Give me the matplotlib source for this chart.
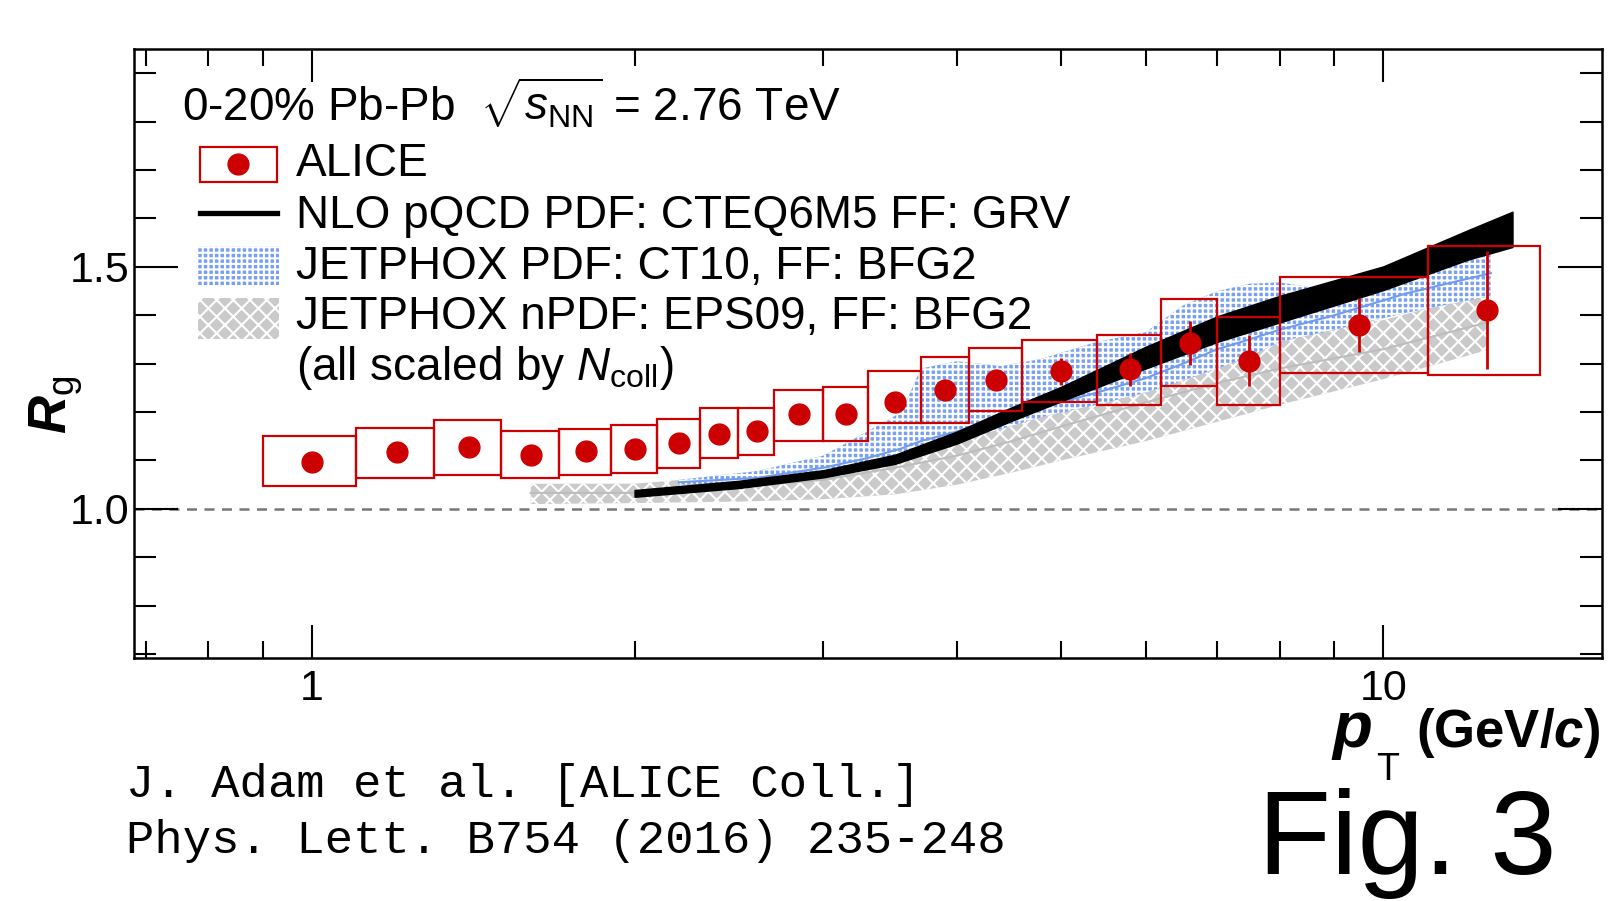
import numpy as np
import matplotlib
matplotlib.use("Agg")
import matplotlib.pyplot as plt
from matplotlib.patches import Rectangle
from matplotlib.lines import Line2D
from matplotlib.ticker import FixedLocator, NullFormatter, FormatStrFormatter, MultipleLocator, LogLocator

plt.rcParams['font.family'] = ['Liberation Sans', 'DejaVu Sans']
plt.rcParams['mathtext.fontset'] = 'custom'
plt.rcParams['mathtext.rm'] = 'Liberation Sans'
plt.rcParams['mathtext.it'] = 'Liberation Sans:italic'
plt.rcParams['mathtext.bf'] = 'Liberation Sans:bold'
plt.rcParams['mathtext.bfit'] = 'Liberation Sans:italic:bold'
plt.rcParams['hatch.linewidth'] = 1.5

# ALICE direkte Photonen, 0-20%
pt = [1.0, 1.2, 1.4, 1.6, 1.8, 2.0, 2.2, 2.4, 2.6, 2.85, 3.15, 3.5, 3.9, 4.35, 5.0, 5.8, 6.6, 7.5, 9.5, 12.5]
pt_lo = [0.9, 1.1, 1.3, 1.5, 1.7, 1.9, 2.1, 2.3, 2.5, 2.7, 3.0, 3.3, 3.7, 4.1, 4.6, 5.4, 6.2, 7.0, 8.0, 11.0]
pt_hi = [1.1, 1.3, 1.5, 1.7, 1.9, 2.1, 2.3, 2.5, 2.7, 3.0, 3.3, 3.7, 4.1, 4.6, 5.4, 6.2, 7.0, 8.0, 11.0, 14.0]
rg = [1.097, 1.117, 1.127, 1.112, 1.119, 1.123, 1.136, 1.155, 1.161, 1.195,
      1.197, 1.220, 1.246, 1.267, 1.284, 1.288, 1.343, 1.306, 1.380, 1.410]
rg_stat = [0.004, 0.004, 0.004, 0.004, 0.004, 0.005, 0.005, 0.006, 0.007, 0.008,
           0.009, 0.011, 0.014, 0.02, 0.028, 0.035, 0.046, 0.053, 0.055, 0.122]
sys_lo = [1.047, 1.064, 1.070, 1.064, 1.070, 1.074, 1.085, 1.106, 1.112, 1.140,
          1.140, 1.178, 1.178, 1.203, 1.220, 1.214, 1.254, 1.215, 1.280, 1.277]
sys_hi = [1.150, 1.167, 1.184, 1.161, 1.165, 1.174, 1.186, 1.208, 1.208, 1.246,
          1.252, 1.284, 1.314, 1.333, 1.348, 1.359, 1.434, 1.397, 1.480, 1.543]

# NLO pQCD (CTEQ6M5, GRV) - schwarzes Band
nlo_x = [2.0, 2.5, 3.0, 3.5, 4.0, 4.5, 5.0, 6.0, 7.0, 8.0, 10.0, 12.0, 13.2]
nlo_lo = [1.025, 1.043, 1.065, 1.093, 1.135, 1.182, 1.222, 1.290, 1.345, 1.385, 1.452, 1.515, 1.541]
nlo_hi = [1.039, 1.058, 1.080, 1.112, 1.160, 1.210, 1.252, 1.335, 1.398, 1.440, 1.501, 1.576, 1.614]

# JETPHOX CT10 - blaues Band
ct10_x = [2.2, 2.6, 3.0, 3.3, 3.55, 3.7, 4.0, 4.4, 4.8, 5.4, 6.0, 6.5, 7.0, 7.5, 8.0, 9.0, 10.5, 12.6]
ct10_lo = [1.050, 1.055, 1.070, 1.085, 1.100, 1.115, 1.140, 1.165, 1.190, 1.215, 1.240, 1.265,
           1.290, 1.315, 1.345, 1.370, 1.405, 1.440]
ct10_hi = [1.060, 1.078, 1.110, 1.160, 1.200, 1.290, 1.305, 1.295, 1.310, 1.345, 1.365, 1.420,
           1.450, 1.465, 1.468, 1.450, 1.490, 1.525]
ct10_mid = [1.055, 1.064, 1.085, 1.105, 1.125, 1.140, 1.160, 1.190, 1.210, 1.240, 1.270, 1.300,
            1.330, 1.350, 1.370, 1.400, 1.445, 1.487]

# JETPHOX EPS09 - graues Band
eps_x = [1.6, 2.0, 2.5, 3.0, 3.5, 4.0, 4.5, 5.0, 6.0, 7.0, 8.0, 10.0, 12.5]
eps_lo = [1.010, 1.012, 1.015, 1.020, 1.030, 1.050, 1.075, 1.100, 1.140, 1.180, 1.215, 1.268, 1.328]
eps_hi = [1.052, 1.052, 1.070, 1.100, 1.190, 1.220, 1.250, 1.280, 1.360, 1.330, 1.360, 1.390, 1.446]
eps_mid = [1.033, 1.033, 1.045, 1.060, 1.085, 1.110, 1.140, 1.170, 1.220, 1.260, 1.290, 1.330, 1.385]

red = '#cc0000'
blue_face = '#77a0f4'
gray_face = '#cacaca'

W, H = 1609, 901
def fx(px):
    return px / W
def fy(py):
    return 1 - py / H

fig = plt.figure(figsize=(W / 100, H / 100), dpi=100)
ax = fig.add_axes([fx(134), fy(658), fx(1602) - fx(134), fy(49) - fy(658)])

ax.set_xscale('log')
ax.set_xlim(0.682, 16.0)
ax.set_ylim(0.692, 1.95)

# Bänder
ax.fill_between(eps_x, eps_lo, eps_hi, facecolor=gray_face, edgecolor='white', hatch='xx', linewidth=0, zorder=1)
ax.plot(eps_x, eps_mid, color='#bdbdbd', lw=1.5, zorder=1.1)
ax.fill_between(ct10_x, ct10_lo, ct10_hi, facecolor=blue_face, edgecolor='white', hatch='+++', linewidth=0, zorder=2)
ax.plot(ct10_x, ct10_mid, color='#6f9cf2', lw=1.5, zorder=2.1)
ax.fill_between(nlo_x, nlo_lo, nlo_hi, facecolor='black', edgecolor='black', linewidth=1, zorder=3)

ax.axhline(1.0, color='#777777', lw=1.8, ls=(0, (4, 3)), zorder=0.5)

# Systematik-Kästen
widths = np.array(pt_hi) - np.array(pt_lo)
heights = np.array(sys_hi) - np.array(sys_lo)
ax.bar(pt_lo, heights, width=widths, bottom=sys_lo, align='edge', fill=False,
       edgecolor=red, linewidth=1.6, zorder=4)

ax.errorbar(pt, rg, yerr=rg_stat, fmt='o', color=red, ms=15, elinewidth=2, capsize=0, zorder=5)

# Achsen
ax.xaxis.set_major_locator(FixedLocator([1, 10]))
ax.set_xticklabels(['1', '10'])
ax.xaxis.set_minor_locator(LogLocator(base=10, subs=np.arange(2, 10) * 0.1 * 10 / 10, numticks=20))
ax.xaxis.set_minor_formatter(NullFormatter())
ax.yaxis.set_major_locator(FixedLocator([1.0, 1.5]))
ax.yaxis.set_major_formatter(FormatStrFormatter('%.1f'))
ax.yaxis.set_minor_locator(MultipleLocator(0.1))

ax.tick_params(which='both', direction='in', top=True, right=True, width=1.5, labelsize=31)
ax.tick_params(axis='x', which='major', length=24, pad=8)
ax.tick_params(axis='x', which='minor', length=12)
ax.tick_params(axis='y', which='major', length=32, pad=3)
ax.tick_params(axis='y', which='minor', length=16)
for s in ax.spines.values():
    s.set_linewidth(1.8)

# Achsentitel (ROOT-Stil: grosses p, tiefes T)
fig.text(fx(1331), fy(747), r'$\mathbfit{p}$', fontsize=47, ha='left', va='baseline')
fig.text(fx(1376), fy(780), 'T', fontsize=27, ha='left', va='baseline')
fig.text(fx(1600), fy(747), r'(GeV/$\mathbfit{c}$)', fontsize=38, fontweight='bold', ha='right', va='baseline')
fig.text(fx(56), fy(405), r'$\mathbfit{R}_{\mathrm{g}}$', fontsize=38, rotation=90,
         ha='center', va='center')

# Legende
fs = 33
fig.text(fx(182), fy(121), r'0-20% Pb-Pb  $\sqrt{s_{\mathrm{NN}}}$ = 2.76 TeV', fontsize=fs, va='baseline')
fig.add_artist(Rectangle((fx(200), fy(182)), fx(277) - fx(200), fy(147) - fy(182), transform=fig.transFigure,
                         fill=False, edgecolor=red, linewidth=1.6))
fig.add_artist(Line2D([fx(238)], [fy(164)], marker='o', ms=15, color=red, transform=fig.transFigure))
fig.add_artist(Line2D([fx(200), fx(277)], [fy(213), fy(213)], lw=3.8, color='black', transform=fig.transFigure))
fig.add_artist(Rectangle((fx(198), fy(285)), fx(279) - fx(198), fy(246) - fy(285), transform=fig.transFigure,
                         facecolor=blue_face, edgecolor='white', hatch='+++', linewidth=0))
fig.add_artist(Rectangle((fx(198), fy(339)), fx(279) - fx(198), fy(298) - fy(339), transform=fig.transFigure,
                         facecolor=gray_face, edgecolor='white', hatch='xx', linewidth=0))
labels = ['ALICE', 'NLO pQCD PDF: CTEQ6M5 FF: GRV', 'JETPHOX PDF: CT10, FF: BFG2',
          'JETPHOX nPDF: EPS09, FF: BFG2', r'(all scaled by $N_{\mathrm{coll}}$)']
baselines = [176, 228, 279, 329, 380]
for lab, yb in zip(labels, baselines):
    fig.text(fx(296), fy(yb), lab, fontsize=fs, va='baseline')

fig.text(fx(126), fy(797), 'J. Adam et al. [ALICE Coll.]', family='Liberation Mono', fontsize=34, va='baseline')
fig.text(fx(126), fy(853), 'Phys. Lett. B754 (2016) 235-248', family='Liberation Mono', fontsize=34, va='baseline')
fig.text(fx(1258), fy(874), 'Fig. 3', fontsize=86, va='baseline')

fig.savefig('out.png', dpi=100)
